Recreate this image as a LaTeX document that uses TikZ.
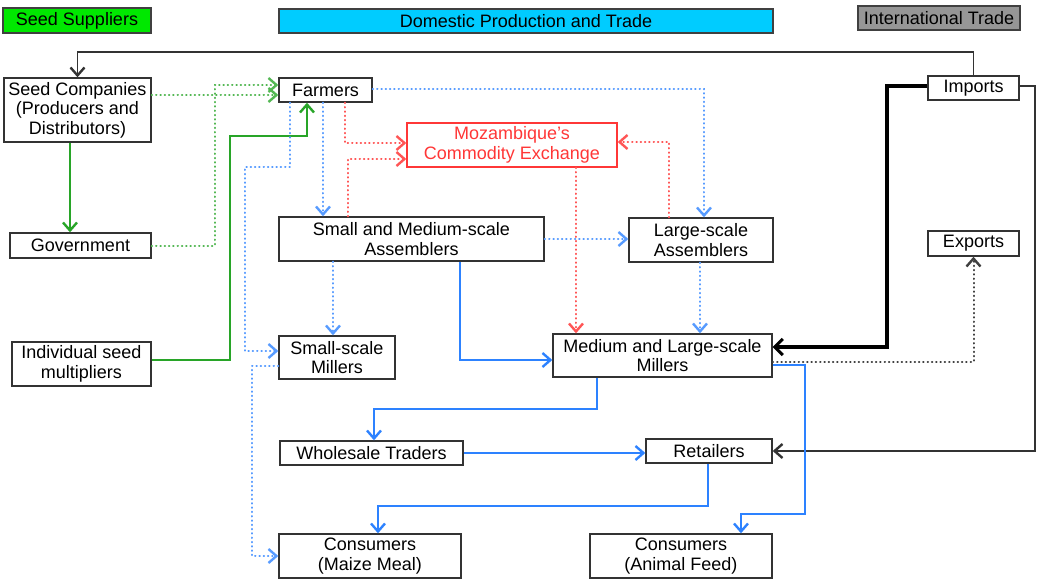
\documentclass[tikz,border=0pt]{standalone}
\usepackage{fontspec}
\setmainfont{Liberation Sans}
\usetikzlibrary{arrows.meta}
\definecolor{seedgreen}{RGB}{0,232,0}
\definecolor{domcyan}{RGB}{0,204,255}
\definecolor{intgray}{RGB}{150,150,150}
\definecolor{flowgreen}{RGB}{40,165,40}
\definecolor{flowblue}{RGB}{45,130,255}
\definecolor{flowred}{RGB}{255,55,55}
\begin{document}
\begin{tikzpicture}[x=1pt,y=-1pt,line join=miter,
  box/.style={draw=black!80,line width=1.4pt,fill=white,align=center,inner sep=1pt,
    font=\fontsize{18}{19.5}\selectfont},
  head/.style={box,draw=black!75},
  flow/.style={line width=1.6pt,-{Straight Barb[length=8pt,width=14pt,line width=2.4pt]}},
  dotflow/.style={flow,line width=2pt,line cap=round,dash pattern=on 0.5pt off 3.8pt},
  blk/.style={flow,draw=black!80},
  blkthick/.style={line width=3.6pt,draw=black,-{Straight Barb[length=8pt,width=16pt,line width=3pt]}},
  blkdot/.style={dotflow,draw=black!75},
  grn/.style={flow,draw=flowgreen},
  grndot/.style={dotflow,draw=flowgreen!80},
  blu/.style={flow,draw=flowblue},
  bludot/.style={dotflow,draw=flowblue!80},
  reddot/.style={dotflow,draw=flowred!85}]
  \useasboundingbox (0,0) rectangle (1037,583);
  % column headings
  \node[head,fill=seedgreen,minimum width=148pt,minimum height=25pt] (seedsup) at (77,20.5) {Seed Suppliers};
  \node[head,fill=domcyan,minimum width=494pt,minimum height=24pt] (domestic) at (526,21) {Domestic Production and Trade};
  \node[head,fill=intgray,minimum width=162pt,minimum height=24pt] (intl) at (939,18) {International Trade};
  % actors
  \node[box,minimum width=147pt,minimum height=64pt] (seedco) at (77.5,110) {Seed Companies\\(Producers and\\Distributors)};
  \node[box,minimum width=141pt,minimum height=25pt] (gov) at (80.5,245.5) {Government};
  \node[box,minimum width=139pt,minimum height=44pt] (indiv) at (81.5,364) {Individual seed\\multipliers};
  \node[box,minimum width=93pt,minimum height=24pt] (farmers) at (325.5,90) {Farmers};
  \node[box,draw=flowred,text=flowred,minimum width=210pt,minimum height=44pt] (mce) at (512,145) {Mozambique's\\Commodity Exchange};
  \node[box,minimum width=265pt,minimum height=44pt] (smassem) at (411.5,239) {Small and Medium-scale\\Assemblers};
  \node[box,minimum width=144pt,minimum height=44pt] (lassem) at (701,240) {Large-scale\\Assemblers};
  \node[box,minimum width=116pt,minimum height=43pt] (ssmill) at (337,357.5) {Small-scale\\Millers};
  \node[box,minimum width=219pt,minimum height=43pt] (mlmill) at (662.5,355.5) {Medium and Large-scale\\Millers};
  \node[box,minimum width=183pt,minimum height=24pt] (wholesale) at (371.5,453) {Wholesale Traders};
  \node[box,minimum width=126pt,minimum height=24pt] (retail) at (709,451) {Retailers};
  \node[box,minimum width=182pt,minimum height=44pt] (consmaize) at (370,556) {Consumers\\(Maize Meal)};
  \node[box,minimum width=182pt,minimum height=44pt] (consfeed) at (681,556) {Consumers\\(Animal Feed)};
  \node[box,minimum width=91pt,minimum height=24pt] (imports) at (973.5,88) {Imports};
  \node[box,minimum width=91pt,minimum height=25pt] (exports) at (973.5,243.5) {Exports};
  % international trade
  \draw[blk] (imports.north) |- (seedco.north |- 0,52) -- (seedco.north);
  \draw[blkthick] (imports.west |- 0,86) -- (887,86) |- (mlmill.east |- 0,347);
  \draw[blk] (imports.east |- 0,86) -- (1035,86) |- (retail.east);
  \draw[blkdot] (mlmill.east |- 0,362) -| (exports.south);
  % seed supply
  \draw[grndot] (seedco.east |- 0,95) -- (farmers.west |- 0,95);
  \draw[grndot] (gov.east) -- (215,245.5) |- (farmers.west |- 0,85);
  \draw[grn] (seedco.south -| 70,0) -- (gov.north -| 70,0);
  \draw[grn] (indiv.east |- 0,360) -- (230,360) |- (307,136) -- (farmers.south -| 307,0);
  % commodity exchange
  \draw[reddot] (farmers.south -| 345,0) |- (mce.west |- 0,143);
  \draw[reddot] (smassem.north -| 348,0) |- (mce.west |- 0,159);
  \draw[reddot] (lassem.north -| 669,0) |- (mce.east |- 0,142);
  \draw[reddot] (mce.south -| 576,0) -- (mlmill.north -| 576,0);
  % maize flows
  \draw[bludot] (farmers.south -| 290,0) |- (245,167) |- (ssmill.west |- 0,351);
  \draw[bludot] (farmers.south -| 323,0) -- (smassem.north -| 323,0);
  \draw[bludot] (farmers.east |- 0,89) -| (lassem.north -| 704,0);
  \draw[bludot] (smassem.east) -- (lassem.west |- smassem.east);
  \draw[bludot] (smassem.south -| 333,0) -- (ssmill.north -| 333,0);
  \draw[blu] (smassem.south -| 460,0) |- (mlmill.west |- 0,360);
  \draw[bludot] (lassem.south -| 700,0) -- (mlmill.north -| 700,0);
  \draw[bludot] (ssmill.west |- 0,366) -- (252,366) |- (consmaize.west);
  \draw[blu] (mlmill.south -| 597,0) |- (374,409) -- (wholesale.north -| 374,0);
  \draw[blu] (wholesale.east) -- (retail.west |- wholesale.east);
  \draw[blu] (retail.south -| 708,0) |- (378,506) -- (consmaize.north -| 378,0);
  \draw[blu] (mlmill.east |- 0,365) -- (805,365) |- (741,514) -- (consfeed.north -| 741,0);
\end{tikzpicture}
\end{document}
